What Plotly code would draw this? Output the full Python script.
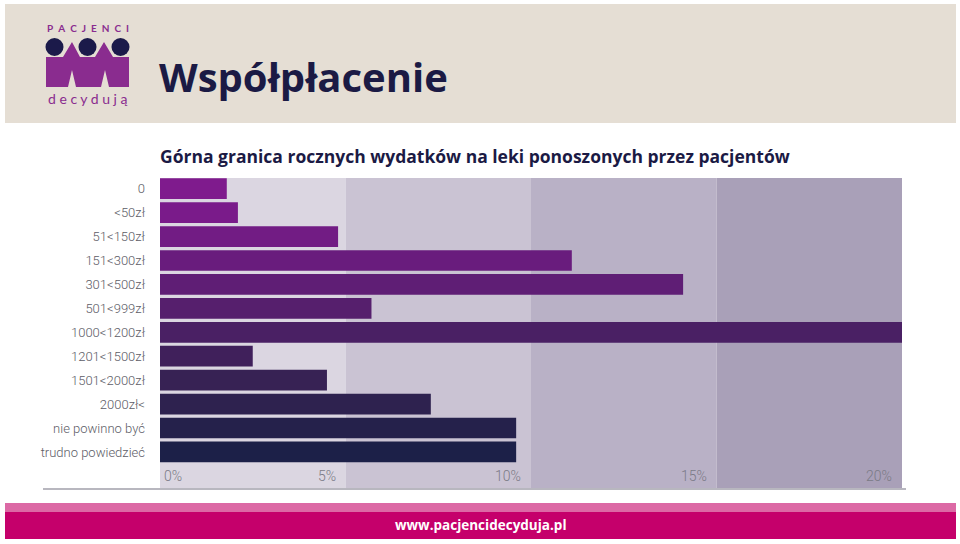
import plotly.graph_objects as go

# ---- data ----
categories = ["0", "<50zł", "51<150zł", "151<300zł", "301<500zł", "501<999zł",
              "1000<1200zł", "1201<1500zł", "1501<2000zł", "2000zł<",
              "nie powinno być", "trudno powiedzieć"]
values = [1.8, 2.1, 4.8, 11.1, 14.1, 5.7, 20.0, 2.5, 4.5, 7.3, 9.6, 9.6]
tick_values = [0, 5, 10, 15, 20]
tick_labels = ["0%", "5%", "10%", "15%", "20%"]

bar_colors = ["#7f1b8d", "#7a1b8a", "#721c84", "#691c7d", "#5f1e75", "#561f6d",
              "#4a2064", "#40205b", "#372254", "#2e224f", "#25214b", "#1c2048"]
band_colors = ["#dbd6e1", "#cac3d3", "#b9b1c6", "#a9a0b8"]

W, H = 960, 544
L, R, T, B = 160, 902, 178, 488


def px(x):
    return (x - L) / (R - L)


def py(y):
    return (B - y) / (B - T)


positions = list(range(len(categories)))

fig = go.Figure()
fig.add_trace(go.Bar(
    x=values, y=positions, orientation="h",
    marker=dict(color=bar_colors, line=dict(width=0)),
    width=0.865, hoverinfo="skip", showlegend=False,
))

shapes = []
# bands
for i in range(len(tick_values) - 1):
    shapes.append(dict(type="rect", xref="x", yref="paper", layer="below",
                       x0=tick_values[i], x1=tick_values[i + 1], y0=0, y1=1,
                       fillcolor=band_colors[i], line=dict(width=0)))
# bottom gray line
shapes.append(dict(type="line", xref="paper", yref="paper",
                   x0=px(43), x1=px(906), y0=py(489), y1=py(489),
                   line=dict(color="#b8b7bf", width=2)))
# header
shapes.append(dict(type="rect", xref="paper", yref="paper", layer="below",
                   x0=px(5), x1=px(956), y0=py(123), y1=py(4),
                   fillcolor="#e5ded4", line=dict(width=0)))
# footer
shapes.append(dict(type="rect", xref="paper", yref="paper", layer="below",
                   x0=px(5), x1=px(956), y0=py(512), y1=py(503),
                   fillcolor="#dc69a5", line=dict(width=0)))
shapes.append(dict(type="rect", xref="paper", yref="paper", layer="below",
                   x0=px(5), x1=px(956), y0=py(539), y1=py(512),
                   fillcolor="#c5006b", line=dict(width=0)))

# logo body
pts = [(46, 57), (63, 57), (72, 42), (80, 57), (95, 57), (104, 42), (113, 57),
       (129, 57), (129, 87), (109, 87), (105, 70), (101, 87), (76, 87),
       (72, 70), (68, 87), (46, 87)]
path = "M " + " L ".join(f"{px(a):.5f},{py(b):.5f}" for a, b in pts) + " Z"
shapes.append(dict(type="path", xref="paper", yref="paper", path=path,
                   fillcolor="#8a2c8f", line=dict(width=0)))
for cx in (54.5, 87.5, 120.5):
    r = 9
    shapes.append(dict(type="circle", xref="paper", yref="paper",
                       x0=px(cx - r), x1=px(cx + r), y0=py(47 + r), y1=py(47 - r),
                       fillcolor="#1b1a4a", line=dict(width=0)))

sp = "\u2002"
annotations = []
annotations.append(dict(text="<b>" + sp.join("PACJENCI") + "</b>", xref="paper", yref="paper",
                        x=px(88), y=py(28), xanchor="center", yanchor="middle",
                        showarrow=False, font=dict(family="Lato", size=10, color="#8a2c8f")))
annotations.append(dict(text=" ".join("decydują"), xref="paper", yref="paper",
                        x=px(88), y=py(99), xanchor="center", yanchor="middle",
                        showarrow=False, font=dict(family="Lato", size=14, color="#8a2c8f")))
annotations.append(dict(text="<b>Współpłacenie</b>", xref="paper", yref="paper",
                        x=px(157), y=py(77), xanchor="left", yanchor="middle",
                        showarrow=False, font=dict(family="Open Sans", size=40, color="#1b1a44")))
annotations.append(dict(text="<b>Górna granica rocznych wydatków na leki ponoszonych przez pacjentów</b>",
                        xref="paper", yref="paper",
                        x=px(158), y=py(156), xanchor="left", yanchor="middle",
                        showarrow=False, font=dict(family="Open Sans", size=17.5, color="#1b1a44")))
annotations.append(dict(text="<b>www.pacjencidecyduja.pl</b>", xref="paper", yref="paper",
                        x=px(481), y=py(525), xanchor="center", yanchor="middle",
                        showarrow=False, font=dict(family="Open Sans", size=13.5, color="#ffffff")))
# x tick labels inside bands
for v, t in zip(tick_values, tick_labels):
    if v == tick_values[0]:
        annotations.append(dict(text=t, xref="x", yref="paper", x=v, y=py(476),
                                xanchor="left", yanchor="middle", xshift=2, showarrow=False,
                                font=dict(family="Roboto", size=14, color="#7a7a86", weight=300)))
    else:
        annotations.append(dict(text=t, xref="x", yref="paper", x=v, y=py(476),
                                xanchor="right", yanchor="middle", xshift=-8, showarrow=False,
                                font=dict(family="Roboto", size=14, color="#7a7a86", weight=300)))

fig.update_layout(
    width=W, height=H,
    margin=dict(l=L, r=W - R, t=T, b=H - B, pad=0),
    paper_bgcolor="#ffffff", plot_bgcolor="rgba(0,0,0,0)",
    shapes=shapes, annotations=annotations,
    bargap=0.13,
    xaxis=dict(range=[tick_values[0], tick_values[-1]], showgrid=False, zeroline=False,
               showticklabels=False, showline=False, fixedrange=True),
    yaxis=dict(range=[12.507, -0.447], tickvals=positions, ticktext=categories,
               showgrid=False, zeroline=False, showline=False, ticks="",
               ticklabelstandoff=14,
               tickfont=dict(family="Roboto", size=13, color="#5c5c66", weight=300),
               fixedrange=True),
)

fig.write_html("out.html")
